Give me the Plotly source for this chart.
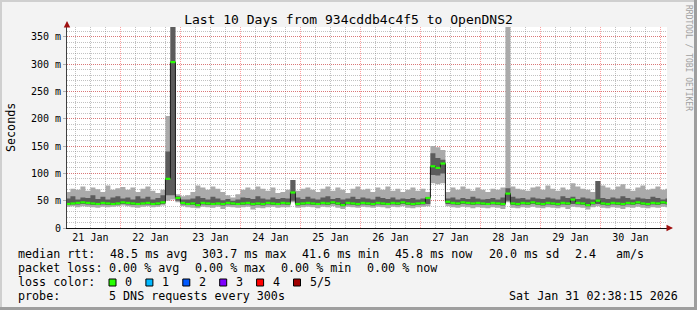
import plotly.graph_objects as go
import pandas as pd

# ---------------- data (2-hour steps starting 2026-01-21 02:00) ----------------
start_time = "2026-01-21 02:00"
step = "2h"

smoke_max = [
    66, 72, 70, 76, 68, 74, 71, 66, 78, 70, 73, 75,
    70, 74, 66, 72, 76, 68, 64, 70, 205, 368, 62, 58,
    60, 66, 78, 74, 70, 76, 72, 66, 60, 56, 62, 70,
    74, 70, 76, 72, 68, 74, 64, 66, 70, 88, 68, 72,
    74, 70, 66, 72, 76, 68, 74, 70, 64, 72, 76, 70,
    72, 66, 74, 70, 76, 68, 72, 66, 70, 74, 68, 72,
    66, 150, 148, 143, 66, 74, 70, 76, 72, 68, 74, 70,
    66, 72, 70, 74, 368, 76, 72, 70, 68, 74, 76, 70,
    78, 72, 68, 74, 70, 82, 76, 72, 70, 66, 86, 78,
    74, 70, 76, 80, 72, 68, 74, 78, 70, 72, 76, 70,
    72,
]
smoke_hi = [
    54, 58, 52, 56, 55, 60, 53, 57, 52, 56, 58, 54,
    56, 52, 58, 54, 57, 52, 55, 60, 140, 368, 58, 52,
    52, 54, 58, 55, 52, 57, 54, 51, 53, 50, 52, 56,
    55, 53, 58, 54, 52, 56, 53, 55, 54, 88, 56, 53,
    57, 54, 52, 56, 58, 53, 55, 52, 54, 57, 53, 56,
    54, 52, 57, 55, 53, 56, 52, 54, 53, 55, 52, 54,
    56, 137, 128, 125, 54, 56, 52, 55, 53, 57, 54, 52,
    53, 55, 52, 56, 73, 57, 54, 55, 52, 56, 54, 53,
    56, 54, 52, 58, 55, 57, 53, 56, 54, 52, 86, 55,
    53, 56, 54, 58, 55, 52, 56, 54, 53, 57, 55, 52,
    54,
]
median_rtt = [
    44, 45, 46, 47, 46, 45, 44, 46, 45, 44, 45, 47,
    46, 45, 44, 45, 46, 44, 45, 47, 90, 303.7, 55, 46,
    44, 45, 42, 46, 45, 44, 45, 44, 46, 45, 44, 45,
    46, 44, 45, 44, 46, 45, 44, 46, 45, 65, 44, 45,
    46, 45, 44, 46, 45, 47, 45, 42, 46, 45, 44, 46,
    45, 44, 46, 45, 44, 46, 45, 47, 45, 44, 45, 46,
    55, 113, 110, 118, 48, 46, 45, 47, 46, 45, 46, 45,
    44, 46, 45, 44, 63, 45, 44, 46, 45, 47, 45, 44,
    46, 45, 44, 46, 45, 52, 46, 45, 42, 46, 50, 45,
    44, 46, 45, 44, 46, 45, 47, 45, 44, 46, 45, 47,
    45.8,
]
smoke_lo = [
    42, 43, 43, 44, 43, 42, 42, 43, 42, 42, 43, 44,
    43, 42, 42, 43, 43, 42, 42, 44, 60, 60, 50, 43,
    42, 42, 40, 43, 42, 42, 43, 41, 43, 42, 42, 42,
    43, 41, 42, 41, 43, 42, 42, 43, 42, 50, 41, 42,
    43, 42, 42, 43, 42, 44, 42, 40, 43, 42, 41, 43,
    42, 41, 43, 42, 42, 43, 42, 44, 42, 41, 42, 43,
    44, 97, 96, 100, 44, 43, 42, 44, 43, 42, 43, 42,
    42, 43, 42, 41, 50, 42, 41, 43, 42, 44, 42, 41,
    43, 42, 41, 43, 42, 44, 43, 42, 40, 43, 44, 42,
    41, 43, 42, 41, 43, 42, 44, 42, 41, 43, 42, 44,
    43,
]
smoke_min = [
    39, 40, 38, 40, 39, 38, 37, 39, 38, 39, 40, 41,
    40, 38, 37, 39, 40, 38, 39, 41, 50, 52, 47, 40,
    38, 37, 36, 39, 38, 37, 39, 35, 39, 38, 37, 38,
    39, 34, 37, 36, 38, 39, 37, 38, 38, 47, 37, 38,
    39, 38, 36, 39, 38, 40, 37, 35, 39, 38, 37, 39,
    38, 37, 39, 38, 36, 39, 38, 40, 37, 36, 38, 39,
    40, 82, 80, 82, 40, 38, 37, 39, 38, 36, 38, 37,
    36, 38, 37, 35, 47, 37, 36, 38, 37, 39, 37, 36,
    38, 37, 36, 38, 35, 39, 38, 37, 34, 38, 40, 37,
    36, 38, 37, 35, 38, 37, 39, 37, 36, 38, 37, 39,
    38,
]

y_tickvals = [0, 50, 100, 150, 200, 250, 300, 350]
y_ticktext = ["0", "50 m", "100 m", "150 m", "200 m", "250 m", "300 m", "350 m"]

title_text = "Last 10 Days from 934cddb4c4f5 to OpenDNS2"
loss_labels = ["0", "1", "2", "3", "4", "5/5"]
loss_colors = ["#26ff00", "#00b8ff", "#0059ff", "#7e00ff", "#ff0000", "#a00000"]

# ---------------- geometry helpers (pixel -> paper) ----------------
W, H = 697, 310
L, R, T, B = 67, 30, 27, 82
PW, PH = W - L - R, H - T - B


def PX(px):
    return (px - L) / PW


def PY(py):
    return (H - B - py) / PH


MONO = "DejaVu Sans Mono"
NB = "\u00a0"

n = len(median_rtt)
times = pd.date_range(start_time, periods=n + 1, freq=step)


def ext(a):
    return list(a) + [a[-1]]


fig = go.Figure()
common = dict(mode="lines", hoverinfo="skip", showlegend=False)
fig.add_trace(go.Scatter(x=times, y=ext(smoke_min), line=dict(width=0, shape="hv"), **common))
fig.add_trace(go.Scatter(x=times, y=ext(smoke_max), line=dict(width=0, shape="hv"),
                         fill="tonexty", fillcolor="#aaaaaa", **common))
fig.add_trace(go.Scatter(x=times, y=ext(smoke_lo), line=dict(width=0, shape="hv"), **common))
fig.add_trace(go.Scatter(x=times, y=ext(smoke_hi), line=dict(width=0, shape="hv"),
                         fill="tonexty", fillcolor="#5c5c5c", **common))
fig.add_trace(go.Scatter(x=times, y=ext(median_rtt), line=dict(width=1, shape="hv", color="#1a1a1a"), **common))

gx, gy = [], []
for i in range(n):
    gx += [times[i], times[i + 1], None]
    gy += [median_rtt[i], median_rtt[i], None]
fig.add_trace(go.Scatter(x=gx, y=gy, line=dict(width=2.2, color=loss_colors[0]), **common))

RED_GRID = "rgba(255,0,0,0.38)"
GRAY_GRID = "rgba(120,120,120,0.45)"

fig.update_xaxes(
    type="date",
    range=["2026-01-21 02:38:15", "2026-01-31 02:38:15"],
    tick0="2026-01-22", dtick=86400000,
    tickformat="%d %b", ticklabelmode="period",
    showgrid=True, gridcolor=RED_GRID, griddash="1px,1px", gridwidth=1,
    ticks="", showline=True, linecolor="#101010", linewidth=1,
    minor=dict(dtick=21600000, showgrid=True, gridcolor=GRAY_GRID, griddash="1px,1px"),
    zeroline=False, fixedrange=True,
    tickfont=dict(family=MONO, size=10, color="#000000"),
)
fig.update_yaxes(
    range=[0, 368],
    tickmode="array", tickvals=y_tickvals, ticktext=y_ticktext,
    showgrid=True, gridcolor=RED_GRID, griddash="1px,1px", gridwidth=1,
    minor=dict(dtick=10, tick0=0, showgrid=True, gridcolor=GRAY_GRID, griddash="1px,1px"),
    ticks="outside", ticklen=3, tickcolor="#b0b0b0",
    showline=True, linecolor="#404040", linewidth=1,
    zeroline=False, fixedrange=True,
    tickfont=dict(family=MONO, size=10, color="#000000"),
)

ann = []


def text(s, px, py, size=11.7, anchor="left", color="#000000", angle=0, fam=MONO):
    ann.append(dict(text=s.replace(" ", NB), x=PX(px), y=PY(py), xref="paper", yref="paper",
                    showarrow=False, xanchor=anchor, yanchor="middle", textangle=angle,
                    font=dict(family=fam, size=size, color=color)))


# y-axis title
text("Seconds", 10.5, 127.5, size=11.7, anchor="center", angle=-90)
# side credit
text("RRDTOOL / TOBI OETIKER", 688, 58, size=8, anchor="center", angle=90, color="#a0a0a0")

# legend lines
line1 = [("median rtt:", 16), ("48.5 ms avg", 107.5), ("303.7 ms max", 200), ("41.6 ms min", 300),
         ("45.8 ms now", 393.3), ("20.0 ms sd", 486.7), ("2.4", 573), ("am/s", 614)]
for s, x in line1:
    text(s, x, 254.3)
line2 = [("packet loss:", 16), ("0.00 % avg", 107.3), ("0.00 % max", 193.3), ("0.00 % min", 279.3),
         ("0.00 % now", 365)]
for s, x in line2:
    text(s, x, 268.3)
text("loss color:", 16, 282.3)
shapes = []
for k, (lab, col) in enumerate(zip(loss_labels, loss_colors)):
    sx = 109 + 36.9 * k
    shapes.append(dict(type="rect", xref="paper", yref="paper",
                       x0=PX(sx), x1=PX(sx + 7), y0=PY(286), y1=PY(279),
                       fillcolor=col, line=dict(color="#000000", width=1)))
    text(lab, sx + 14, 282.3)
text("probe:", 16, 296)
text("5 DNS requests every 300s", 107.3, 296)
text("Sat Jan 31 02:38:15 2026", 680, 296, anchor="right")

# arrows
ann.append(dict(x=PX(67), y=PY(21), xref="paper", yref="paper", ax=0, ay=7, text="",
                showarrow=True, arrowhead=2, arrowsize=1.3, arrowwidth=1, arrowcolor="#a01010"))
ann.append(dict(x=PX(673), y=PY(228), xref="paper", yref="paper", ax=-7, ay=0, text="",
                showarrow=True, arrowhead=2, arrowsize=1.3, arrowwidth=1, arrowcolor="#a01010"))

# frame shading
shapes += [
    dict(type="rect", xref="paper", yref="paper", x0=PX(0), x1=PX(697), y0=PY(2), y1=PY(0),
         fillcolor="#cfcfcf", line=dict(width=0), layer="below"),
    dict(type="rect", xref="paper", yref="paper", x0=PX(0), x1=PX(2), y0=PY(310), y1=PY(0),
         fillcolor="#cfcfcf", line=dict(width=0), layer="below"),
    dict(type="rect", xref="paper", yref="paper", x0=PX(0), x1=PX(697), y0=PY(310), y1=PY(307),
         fillcolor="#9e9e9e", line=dict(width=0), layer="below"),
    dict(type="rect", xref="paper", yref="paper", x0=PX(694), x1=PX(697), y0=PY(310), y1=PY(0),
         fillcolor="#9e9e9e", line=dict(width=0), layer="below"),
]

fig.update_layout(
    width=W, height=H,
    margin=dict(l=L, r=R, t=T, b=B),
    paper_bgcolor="#f3f3f3", plot_bgcolor="#ffffff",
    showlegend=False, hovermode=False,
    font=dict(family=MONO, size=10, color="#000000"),
    title=dict(text=title_text, x=0.5, xanchor="center", xref="container",
               y=1 - 19 / H, yanchor="middle", yref="container",
               font=dict(family=MONO, size=13, color="#000000")),
    annotations=ann, shapes=shapes,
)

fig.write_html("out.html", config={"displayModeBar": False})
